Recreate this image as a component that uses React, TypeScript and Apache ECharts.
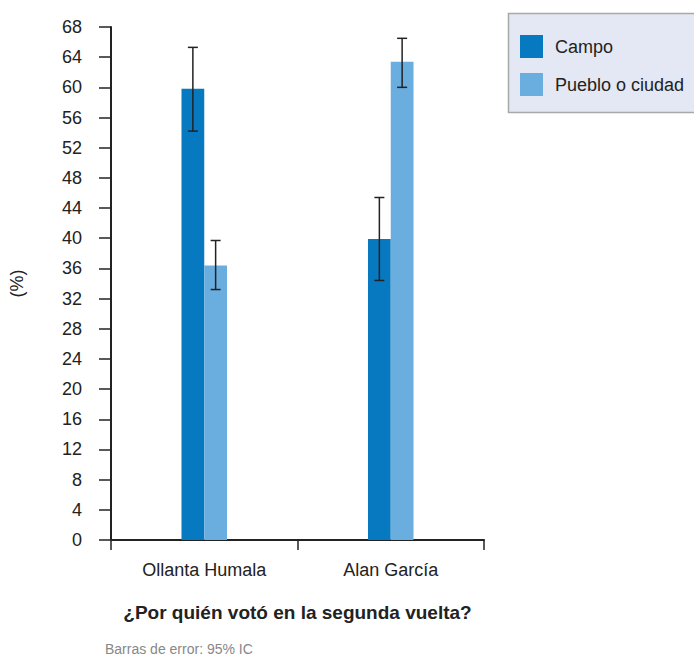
import React, { useEffect, useRef } from "react";
import * as echarts from "echarts";

const categories = ["Ollanta Humala", "Alan García"];
const seriesNames = ["Campo", "Pueblo o ciudad"];
const campo = [59.8, 39.9];
const campoLow = [54.2, 34.4];
const campoHigh = [65.3, 45.4];
const pueblo = [36.4, 63.4];
const puebloLow = [33.2, 60.0];
const puebloHigh = [39.7, 66.5];
const yTicks = { min: 0, max: 68, interval: 4 };

const FONT = "Liberation Sans";
const BAR_FRAC = 0.122;

function errorSeries(name: string, low: number[], high: number[], side: number) {
  return {
    type: "custom",
    name: name + " IC",
    z: 10,
    silent: true,
    renderItem: (params: any, api: any) => {
      const idx = api.value(0);
      const lo = api.value(1);
      const hi = api.value(2);
      const bandW = api.size([1, 0])[0];
      const bw = bandW * BAR_FRAC;
      const pLo = api.coord([idx, lo]);
      const pHi = api.coord([idx, hi]);
      const x = pLo[0] + side * bw / 2;
      const cap = 5;
      const style = { stroke: "#222", lineWidth: 1.5 };
      return {
        type: "group",
        children: [
          { type: "line", shape: { x1: x, y1: pLo[1], x2: x, y2: pHi[1] }, style },
          { type: "line", shape: { x1: x - cap, y1: pLo[1], x2: x + cap, y2: pLo[1] }, style },
          { type: "line", shape: { x1: x - cap, y1: pHi[1], x2: x + cap, y2: pHi[1] }, style },
        ],
      };
    },
    data: low.map((l, i) => [i, l, high[i]]),
  };
}

export default function App() {
  const ref = useRef<HTMLDivElement>(null);
  useEffect(() => {
    if (!ref.current) return;
    const chart = echarts.init(ref.current, undefined, { renderer: "svg" });
    chart.setOption({
      animation: false,
      textStyle: { fontFamily: FONT },
      grid: { left: 107, right: 210, top: 27, bottom: 117 },
      graphic: [
        {
          type: "rect",
          z: -1,
          shape: { x: 508.5, y: 13.5, width: 200, height: 99 },
          style: { fill: "#e4e8f4", stroke: "#a8a8a8", lineWidth: 1.5 },
        },
        {
          type: "text",
          left: 105,
          top: 642,
          style: { text: "Barras de error: 95% IC", fontSize: 14, fill: "#888", fontFamily: FONT },
        },
      ],
      legend: {
        orient: "vertical",
        left: 520,
        top: 35,
        padding: 0,
        itemWidth: 23,
        itemHeight: 23,
        itemGap: 15,
        icon: "rect",
        data: seriesNames,
        textStyle: { fontSize: 18, color: "#222", fontFamily: FONT, padding: [0, 0, 2, 7] },
      },
      xAxis: {
        type: "category",
        data: categories,
        name: "¿Por quién votó en la segunda vuelta?",
        nameLocation: "middle",
        nameGap: 63,
        nameTextStyle: { fontSize: 19, fontWeight: "bold", color: "#222", fontFamily: FONT },
        axisLine: { lineStyle: { color: "#222", width: 2 } },
        axisTick: { show: true, length: 10, lineStyle: { color: "#222", width: 1.5 } },
        axisLabel: { fontSize: 18, color: "#222", margin: 21, fontFamily: FONT },
      },
      yAxis: {
        type: "value",
        min: yTicks.min,
        max: yTicks.max,
        interval: yTicks.interval,
        name: "(%)",
        nameLocation: "middle",
        nameGap: 85,
        nameRotate: 90,
        nameTextStyle: { fontSize: 18, color: "#222", fontFamily: FONT },
        splitLine: { show: false },
        axisLine: { show: true, lineStyle: { color: "#222", width: 2 } },
        axisTick: { show: true, length: 12, lineStyle: { color: "#222", width: 1.5 } },
        axisLabel: { fontSize: 18, color: "#222", margin: 29, fontFamily: FONT },
      },
      series: [
        {
          type: "bar",
          name: seriesNames[0],
          data: campo,
          barWidth: (BAR_FRAC * 100) + "%",
          barGap: "0%",
          itemStyle: { color: "#0779c1" },
        },
        {
          type: "bar",
          name: seriesNames[1],
          data: pueblo,
          barWidth: (BAR_FRAC * 100) + "%",
          barGap: "0%",
          itemStyle: { color: "#6aaee0" },
        },
        errorSeries(seriesNames[0], campoLow, campoHigh, -1),
        errorSeries(seriesNames[1], puebloLow, puebloHigh, 1),
      ],
    });
    return () => chart.dispose();
  }, []);
  return <div ref={ref} style={{ width: 694, height: 657, position: "absolute", left: 0, top: 0 }} />;
}
